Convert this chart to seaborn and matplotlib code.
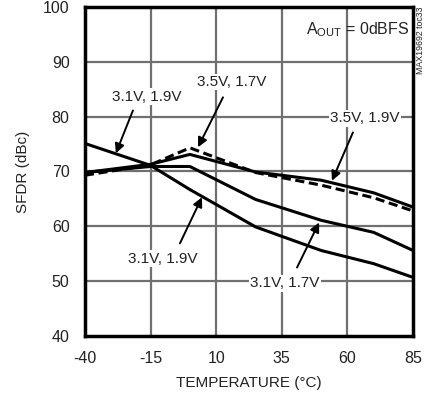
import numpy as np
import pandas as pd
import matplotlib
matplotlib.use("Agg")
import matplotlib.pyplot as plt
import seaborn as sns

# temperature breakpoints (°C)
temp = [-40, -15, 0, 25, 50, 70, 85]

# SFDR (dBc) per supply combo
sfdr_31_19 = [75.1, 71.1, 66.7, 59.9, 55.6, 53.2, 50.7]
sfdr_31_17 = [69.8, 70.9, 70.9, 64.9, 61.1, 58.9, 55.6]
sfdr_35_19 = [69.8, 71.3, 73.1, 69.9, 68.4, 66.1, 63.5]
sfdr_35_17 = [69.3, 71.2, 74.3, 69.8, 67.5, 65.2, 62.8]

xticks = [-40, -15, 10, 35, 60, 85]
yticks = [40, 50, 60, 70, 80, 90, 100]

df = pd.DataFrame({
    "temp": temp * 4,
    "sfdr": sfdr_31_19 + sfdr_31_17 + sfdr_35_19 + sfdr_35_17,
    "combo": ["3.1V, 1.9V"] * 7 + ["3.1V, 1.7V"] * 7 + ["3.5V, 1.9V"] * 7 + ["3.5V, 1.7V"] * 7,
})

sns.set_style("white")
plt.rcParams["font.family"] = ["Liberation Sans Narrow", "Liberation Sans", "DejaVu Sans"]
plt.rcParams["axes.unicode_minus"] = False

fig = plt.figure(figsize=(4.33, 3.95), dpi=100)
ax = fig.add_axes([0.196, 0.149, 0.758, 0.834])

for x in xticks[1:-1]:
    ax.axvline(x, color="#707070", lw=1.6, zorder=0)
for y in yticks[1:-1]:
    ax.axhline(y, color="#707070", lw=1.6, zorder=0)

sns.lineplot(data=df, x="temp", y="sfdr", hue="combo", style="combo",
             palette=["black"] * 4,
             dashes={"3.1V, 1.9V": "", "3.1V, 1.7V": "", "3.5V, 1.9V": "", "3.5V, 1.7V": (3, 1.5)},
             linewidth=2.2, legend=False, ax=ax, zorder=3)

ax.set_xlim(-40, 85)
ax.set_ylim(40, 100)
ax.set_xticks(xticks)
ax.set_yticks(yticks)
ax.tick_params(axis="x", length=0, labelsize=11.5, colors="#222222", pad=11)
ax.tick_params(axis="y", length=0, labelsize=11.5, colors="#222222", pad=11)
ax.set_xlabel("TEMPERATURE (°C)", fontsize=11, color="#222222", labelpad=7)
ax.set_ylabel("SFDR (dBc)", fontsize=11, color="#222222", labelpad=9)
for s in ax.spines.values():
    s.set_linewidth(2.5)
    s.set_color("black")

box = dict(facecolor="white", edgecolor="none", pad=1)
ax.text(83.5, 95.9, r"A$_{\mathregular{OUT}}$ = 0dBFS", ha="right", va="center",
        fontsize=11.5, color="#222222", zorder=5)

labels = [
    ("3.1V, 1.9V", (-16.5, 83.6), (-21.7, 81.1), (-28.2, 73.3)),
    ("3.5V, 1.7V", (15.9, 86.3), (12.6, 83.5), (3.1, 74.4)),
    ("3.5V, 1.9V", (66.7, 79.7), (62.1, 77.1), (54.1, 68.3)),
    ("3.1V, 1.9V", (-10.3, 54.1), (-3.8, 56.9), (4.6, 65.3)),
    ("3.1V, 1.7V", (36.2, 49.6), (40.8, 52.5), (49.2, 60.7)),
]
for txt, pos, start, tip in labels:
    ax.text(pos[0], pos[1], txt, ha="center", va="center", fontsize=11,
            color="#222222", bbox=box, zorder=5)
    ax.annotate("", xy=tip, xytext=start,
                arrowprops=dict(arrowstyle="-|>", color="black", lw=1.4,
                                mutation_scale=14, shrinkA=0, shrinkB=0),
                zorder=6)

fig.text(0.970, 0.983, "MAX19692 toc33", rotation=90, ha="center", va="top",
         fontsize=6.3, color="#222222")

fig.savefig("out.png", dpi=100)
